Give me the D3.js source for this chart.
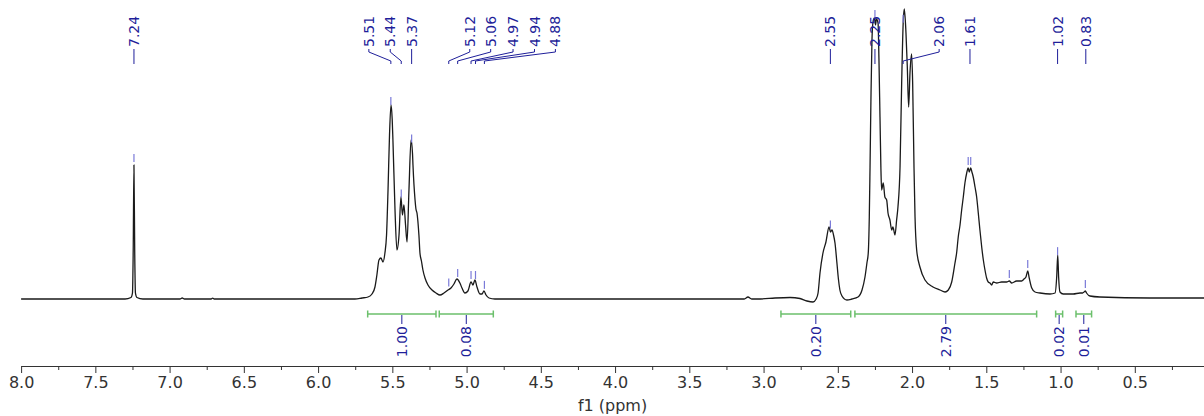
<!DOCTYPE html>
<html><head><meta charset="utf-8">
<script src="https://cdn.jsdelivr.net/npm/d3@7"></script>
<style>html,body{margin:0;padding:0;background:#fff;}svg{display:block;}</style>
</head><body>
<svg id="chart" width="1204" height="416"></svg>
<script>
// ---- data ----
const shifts = [8.00,7.70,7.40,7.30,7.26,7.25,7.245,7.24,7.235,7.23,7.22,7.18,6.93,6.915,6.90,6.72,6.71,6.70,6.20,5.90,
5.752,5.704,5.664,5.637,5.617,5.604,5.590,5.577,5.563,5.550,5.539,5.529,5.519,5.509,5.501,5.496,5.482,5.469,5.455,5.442,
5.432,5.422,5.411,5.401,5.388,5.374,5.364,5.361,5.347,5.341,5.334,5.321,5.314,5.304,5.294,5.280,5.260,5.233,5.206,5.179,
5.152,5.125,5.105,5.085,5.065,5.045,5.031,5.011,4.991,4.970,4.957,4.944,4.930,4.910,4.896,4.883,4.869,4.849,4.809,4.20,
3.50,3.13,3.105,3.08,3.023,2.923,2.822,2.755,2.708,2.667,2.646,2.633,2.620,2.600,2.580,2.559,2.549,2.539,2.529,2.519,
2.506,2.496,2.486,2.472,2.439,2.405,2.364,2.337,2.317,2.304,2.295,2.288,2.283,2.277,2.270,2.263,2.253,2.246,2.240,2.229,
2.223,2.216,2.210,2.205,2.194,2.183,2.171,2.162,2.149,2.137,2.129,2.115,2.104,2.095,2.081,2.070,2.059,2.052,2.041,2.032,
2.023,2.014,2.003,1.996,1.987,1.980,1.969,1.947,1.913,1.859,1.812,1.778,1.756,1.733,1.711,1.700,1.689,1.677,1.666,1.655,
1.644,1.632,1.622,1.615,1.605,1.597,1.588,1.576,1.565,1.554,1.543,1.531,1.520,1.509,1.498,1.487,1.475,1.464,1.453,1.430,
1.397,1.363,1.345,1.329,1.296,1.262,1.246,1.233,1.221,1.211,1.194,1.172,1.138,1.071,1.037,1.026,1.019,1.013,1.004,0.982,
0.915,0.869,0.851,0.842,0.833,0.825,0.802,0.735,0.40,0.034];
const intensities = [0,0,0,0,1.5,6,49,134,49,6,1.5,0,0,1,0,0,0.8,0,0,0,
0,1,2,5,12,24,39,41,37,46,64,109,164,194,180,159,89,49,64,102,
84,94,74,57,109,159,145,134,99,90,86,64,46,38,29,21,14,9,6,4,
6,9,11,15,20,16,11,6,8,17,14,19,12,5,5,8,4,1,0,0,
0,0,2,0,0,1,1.5,0.5,-2,-3,0,6,26,46,57,72,67,69,64,56,
36,20,9,3,-1,0,2,9,22,36,46,82,132,199,259,277,281,274,280,276,
240,182,132,109,116,102,99,86,79,69,72,64,79,92,132,216,279,290,266,232,
192,226,245,216,132,82,49,32,19,12,9,7,9,17,36,46,62,74,89,102,
116,126,131,127,131,127,122,112,102,86,69,52,39,29,21,17,16,14,17,16,
17,17,18,16,18,18,20,22,28,21,11,7,6,5,6,22,44,22,7,5,
5,6,6,7,8,6,3,2,1,1];

const peakPicks = [7.24,5.51,5.44,5.37,5.12,5.06,4.97,4.94,4.88,2.55,2.25,2.06,1.622,1.605,1.345,1.221,1.02,0.833];
const peakLabels = [7.24,5.51,5.44,5.37,5.12,5.06,4.97,4.94,4.88,2.55,2.25,2.06,1.61,1.02,0.83];

const integralStart = [5.666,5.184,2.883,2.385,1.033,0.896];
const integralEnd   = [5.206,4.820,2.413,1.161,0.986,0.791];
const integralValues = [1.00,0.08,0.20,2.79,0.02,0.01];

const majorTicks = [8.0,7.5,7.0,6.5,6.0,5.5,5.0,4.5,4.0,3.5,3.0,2.5,2.0,1.5,1.0,0.5];
const minorTicks = [7.75,7.25,6.75,6.25,5.75,5.25,4.75,4.25,3.75,3.25,2.75,2.25,1.75,1.25,0.75,0.25];
const axisTitle = "f1 (ppm)";

// ---- layout ----
const W = 1204, H = 416;
const BASE_Y = 299, AXIS_Y = 366, INT_Y = 314;
const LABEL_DX = {"5.51":-22,"5.44":-11,"5.12":21,"5.06":33,"4.97":42,"4.94":59,"4.88":71,"2.06":36};
const FONT = "'DejaVu Sans', Verdana, sans-serif";
const BLUE = "#1f1f9a", PICK = "#7a7ad8", GREEN = "#6cc06c";

const svg = d3.select("#chart");
const x = d3.scaleLinear().domain([8.0, 0.034]).range([21.1, W]);
const y = d3.scaleLinear().domain([0, BASE_Y]).range([BASE_Y, 0]);

const pts = shifts.map((s, i) => [s, intensities[i]]);
function intensityAt(p) {
  for (let i = 0; i < pts.length - 1; i++) {
    const a = pts[i], b = pts[i + 1];
    if (a[0] >= p && p >= b[0]) {
      const t = (a[0] - p) / (a[0] - b[0] || 1);
      return a[1] + t * (b[1] - a[1]);
    }
  }
  return 0;
}

// spectrum
svg.append("path")
  .datum(pts)
  .attr("fill", "none")
  .attr("stroke", "#1a1a1a")
  .attr("stroke-width", 1.3)
  .attr("stroke-linejoin", "round")
  .attr("d", d3.line().x(d => x(d[0])).y(d => y(d[1])).curve(d3.curveMonotoneX));

// peak pick markers
svg.append("g").selectAll("line").data(peakPicks).join("line")
  .attr("x1", d => x(d)).attr("x2", d => x(d))
  .attr("y1", d => y(intensityAt(d)) - 11)
  .attr("y2", d => y(intensityAt(d)) - 3)
  .attr("stroke", PICK).attr("stroke-width", 1.2);

// peak labels
const lab = svg.append("g");
peakLabels.forEach(p => {
  const key = p.toFixed(2);
  const px = x(p);
  const lx = px + (LABEL_DX[key] || 0);
  const d = (lx === px) ? `M${lx},49V64` : `M${lx},49V52L${px},61V64`;
  lab.append("path").attr("d", d).attr("fill", "none").attr("stroke", BLUE).attr("stroke-width", 1);
  lab.append("text")
    .attr("transform", `translate(${lx},47) rotate(-90)`)
    .attr("dy", "0.36em")
    .attr("text-anchor", "start")
    .attr("font-family", FONT).attr("font-size", 14)
    .attr("fill", BLUE)
    .text(key);
});

// integrals
const ig = svg.append("g");
integralValues.forEach((v, i) => {
  const x0 = x(integralStart[i]), x1 = x(integralEnd[i]), xm = (x0 + x1) / 2;
  ig.append("path")
    .attr("d", `M${x0},${INT_Y - 3.5}V${INT_Y + 3.5}M${x0},${INT_Y}H${x1}M${x1},${INT_Y - 3.5}V${INT_Y + 3.5}`)
    .attr("fill", "none").attr("stroke", GREEN).attr("stroke-width", 1.5);
  ig.append("line").attr("x1", xm).attr("x2", xm).attr("y1", INT_Y + 1).attr("y2", INT_Y + 10)
    .attr("stroke", BLUE).attr("stroke-width", 1);
  ig.append("text")
    .attr("transform", `translate(${xm},${INT_Y + 12}) rotate(-90)`)
    .attr("dy", "0.36em")
    .attr("text-anchor", "end")
    .attr("font-family", FONT).attr("font-size", 14)
    .attr("fill", BLUE)
    .text(v.toFixed(2));
});

// axis
const axisG = svg.append("g").attr("transform", `translate(0,${AXIS_Y})`);
axisG.call(d3.axisBottom(x).tickValues(majorTicks).tickSize(7).tickSizeOuter(0).tickPadding(4).tickFormat(d3.format(".1f")));
const minorG = svg.append("g").attr("transform", `translate(0,${AXIS_Y})`);
minorG.call(d3.axisBottom(x).tickValues(minorTicks).tickSize(4).tickFormat(""));
minorG.select(".domain").remove();
[axisG, minorG].forEach(g => {
  g.selectAll("path,line").attr("stroke", "#333");
  g.selectAll("text").attr("font-family", FONT).attr("font-size", 16).attr("fill", "#333");
});

svg.append("text")
  .attr("x", (x.range()[0] + x.range()[1]) / 2)
  .attr("y", 411)
  .attr("text-anchor", "middle")
  .attr("font-family", FONT).attr("font-size", 16).attr("fill", "#333")
  .text(axisTitle);
</script>
</body></html>
